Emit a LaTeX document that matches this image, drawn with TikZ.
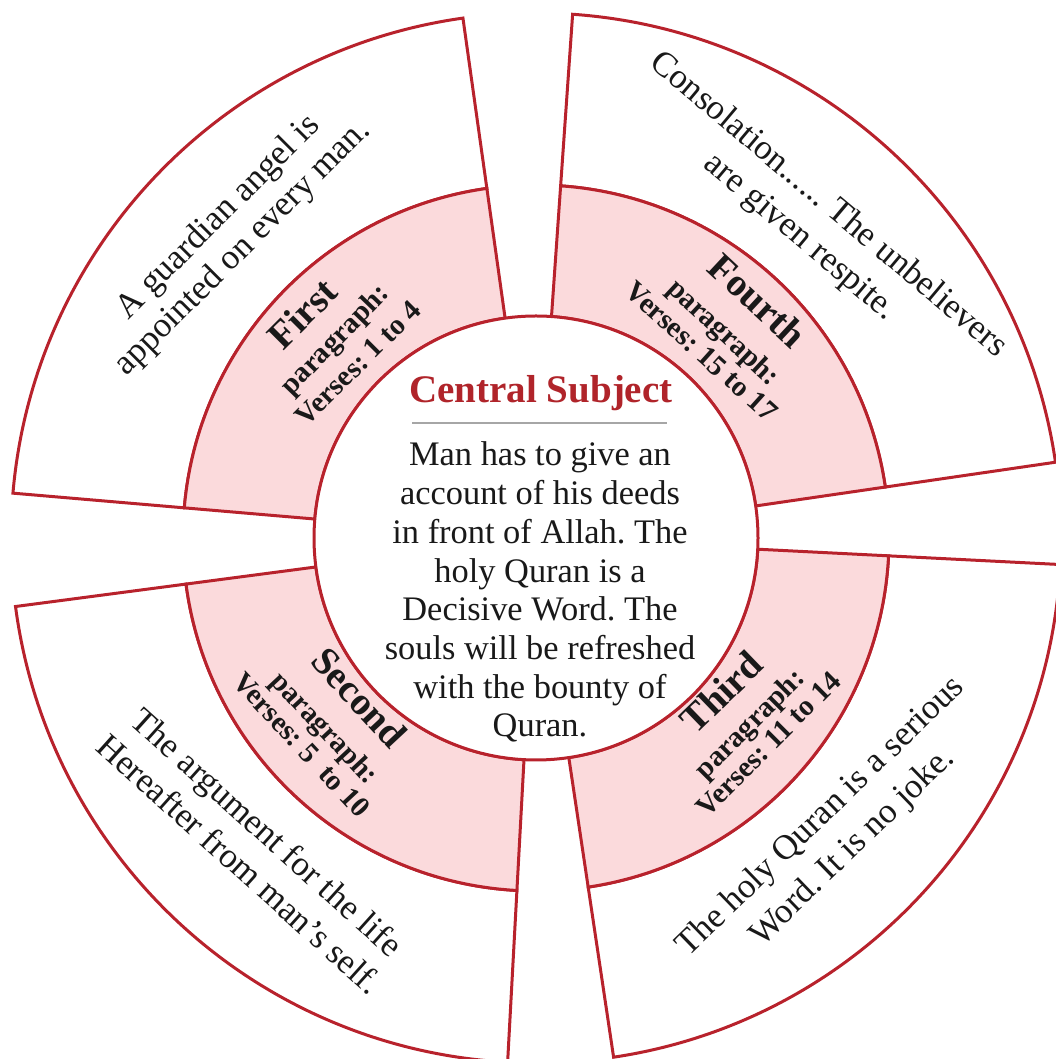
\documentclass[tikz,border=0pt]{standalone}
\usepackage{fontspec}
\setmainfont{Liberation Serif}
\frenchspacing
\definecolor{rl}{RGB}{184,34,44}
\definecolor{pk}{RGB}{251,218,220}
\definecolor{ttl}{RGB}{176,36,42}
\definecolor{ink}{RGB}{25,25,25}
\newcommand\annsec[5]{\path[#5] (#1:#3pt) arc[start angle=#1,end angle=#2,radius=#3pt] -- (#2:#4pt) arc[start angle=#2,end angle=#1,radius=#4pt] -- cycle;}
\begin{document}
\begin{tikzpicture}[x=1pt,y=1pt,
  sec/.style={draw=rl,line width=3pt,line join=miter},
  outsec/.style={sec,fill=white},
  insec/.style={sec,fill=pk},
  txt/.style={font=\fontsize{35}{42}\selectfont,text height=24pt,text depth=7pt,inner sep=0pt,text=ink},
  head/.style={font=\bfseries\fontsize{39}{42}\selectfont,text height=26.5pt,text depth=8pt,inner sep=0pt,text=ink},
  sub/.style={font=\bfseries\fontsize{29}{32}\selectfont,text height=20pt,text depth=6pt,inner sep=0pt,text=ink},
  ctr/.style={font=\fontsize{34.4}{38.7}\selectfont,inner sep=0pt,anchor=base,text=ink}]
\useasboundingbox (0,0) rectangle (1056,1059);
\coordinate (C) at (536,521);
\begin{scope}[shift={(C)}]
  % outer white sectors
  \annsec{8.3}{86}{353}{525}{outsec}
  \annsec{98}{175.1}{353}{525}{outsec}
  \annsec{187.5}{266.9}{353}{525}{outsec}
  \annsec{278.5}{357.1}{353}{525}{outsec}
  % pink sectors
  \annsec{8.3}{86}{222}{353}{insec}
  \annsec{98}{175.1}{222}{353}{insec}
  \annsec{187.5}{266.9}{222}{353}{insec}
  \annsec{278.5}{357.1}{222}{353}{insec}
  % central circle
  \draw[sec,fill=white] (0,0) circle[radius=222pt];
  \node[font=\bfseries\fontsize{39}{42}\selectfont,text=ttl,inner sep=0pt,anchor=base] (title) at (5,135) {Central Subject};
  \draw[line width=2.5pt,color=black!35] (-124,115) -- (131,115);
  \node[ctr] (c1) at (4,72) {Man has to give an};
  \node[ctr] (c2) at (4,33.3) {account of his deeds};
  \node[ctr] (c3) at (4,-5.4) {in front of Allah. The};
  \node[ctr] (c4) at (4,-44.1) {holy Quran is a};
  \node[ctr] (c5) at (4,-82.8) {Decisive Word. The};
  \node[ctr] (c6) at (4,-121.5) {souls will be refreshed};
  \node[ctr] (c7) at (4,-160.2) {with the bounty of};
  \node[ctr] (c8) at (4,-198.9) {Quran.};
  % First
  \node[head,rotate=45] (h1) at (136.2:320pt) {First};
  \node[sub,rotate=46] (p1) at (135.4:281pt) {paragraph:};
  \node[sub,rotate=45] (v1) at (135.5:247pt) {Verses: 1 to 4};
  \node[txt,rotate=45] (o1a) at (134.7:451pt) {A guardian angel is};
  \node[txt,rotate=45] (o1b) at (135.3:412pt) {appointed on every man.};
  % Fourth
  \node[head,rotate=-43] (h4) at (47:321pt) {Fourth};
  \node[sub,rotate=-43] (p4) at (47.6:277pt) {paragraph:};
  \node[sub,rotate=-42] (v4) at (48.4:247pt) {Verses: 15 to 17};
  \node[txt,rotate=-40] (o4a) at (48.7:443pt) {Consolation...... The unbelievers};
  \node[txt,rotate=-40] (o4b) at (48.7:400pt) {are given respite.};
  % Second
  \node[head,rotate=-47] (h2) at (222.1:242pt) {Second};
  \node[sub,rotate=-47] (p2) at (222:286pt) {paragraph:};
  \node[sub,rotate=-47] (v2) at (221.5:315pt) {Verses: 5 \ to 10};
  \node[txt,rotate=-42] (o2a) at (227.6:402pt) {The argument for the life};
  \node[txt,rotate=-42] (o2b) at (227.7:444pt) {Hereafter from man's self.};
  % Third
  \node[head,rotate=44] (h3) at (320.1:245pt) {Third};
  \node[sub,rotate=45] (p3) at (319:285pt) {paragraph:};
  \node[sub,rotate=45] (v3) at (318.4:313pt) {Verses: 11 to 14};
  \node[txt,rotate=44] (o3a) at (315.6:399pt) {The holy Quran is a serious};
  \node[txt,rotate=44] (o3b) at (315.7:443pt) {Word. It is no joke.};
\end{scope}
\end{tikzpicture}
\end{document}
